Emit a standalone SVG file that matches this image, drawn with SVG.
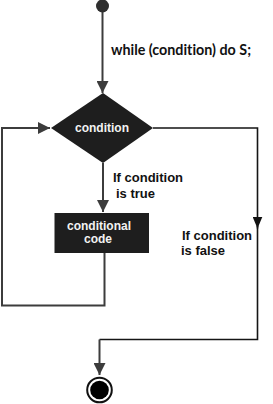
<svg xmlns="http://www.w3.org/2000/svg" width="273" height="404" viewBox="0 0 273 404">
<defs>
<style>
.bg{fill:#ffffff}
.ln{fill:none;stroke:#3c3c3c;stroke-width:2}
.lnk{fill:none;stroke:#151515;stroke-width:1.6}
.shape{fill:#1e1e1e}
.wt{fill:#f2f2f2;font-family:"Liberation Sans",Arial,sans-serif;font-weight:bold;font-size:12px;text-anchor:middle}
.lbl{fill:#111111;font-family:"Liberation Sans",Arial,sans-serif;font-weight:bold;font-size:13px}
.code{fill:#111111;font-family:Lato,"Open Sans",sans-serif;font-weight:bold;font-size:14.3px;font-variant-ligatures:none}
</style>
<marker id="ah" viewBox="0 0 12 12" refX="12" refY="6" markerWidth="12" markerHeight="12" markerUnits="userSpaceOnUse" orient="auto">
<path d="M0,0 L12,6 L0,12 Z" fill="#3c3c3c"/>
</marker>
<marker id="ahk" viewBox="0 0 12 12" refX="12" refY="6" markerWidth="12" markerHeight="10" markerUnits="userSpaceOnUse" orient="auto" preserveAspectRatio="none">
<path d="M0,0 L12,6 L0,12 Z" fill="#111111"/>
</marker>
</defs>
<rect class="bg" x="0" y="0" width="273" height="404"/>
<g id="connectors">
<path class="ln" d="M102.5,10 V93" marker-end="url(#ah)"/>
<path class="ln" d="M103,163 V212" marker-end="url(#ah)"/>
<path class="ln" d="M104.5,253 V305.5 H2 V128 H50" marker-end="url(#ah)"/>
<path class="lnk" d="M153,128 H257.5 V228.5"  marker-end="url(#ahk)"/>
<path class="lnk" d="M257.5,226 V339.5 H99.5"/>
<path class="ln" d="M99.5,339.5 V375" marker-end="url(#ah)"/>
</g>
<g id="start">
<circle cx="102.5" cy="6" r="6.5" fill="#2e2e2e"/>
</g>
<text class="code" x="111" y="55">while (condition) do S;</text>
<g id="condition">
<polygon class="shape" points="103,93 153,128 103,163 51,128"/>
<text class="wt" x="102" y="132">condition</text>
</g>
<g id="label-true">
<text class="lbl" x="113" y="181.5">If condition</text>
<text class="lbl" x="116" y="197.5">is true</text>
</g>
<g id="code">
<rect class="shape" x="54.5" y="213" width="94.5" height="40"/>
<text class="wt" x="99" y="229.5">conditional</text>
<text class="wt" x="98" y="243">code</text>
</g>
<g id="label-false">
<text class="lbl" x="182" y="240">If condition</text>
<text class="lbl" x="181" y="254.5">is false</text>
</g>
<g id="end">
<circle cx="99.5" cy="390" r="12.3" fill="#ffffff" stroke="#111111" stroke-width="2"/>
<circle cx="99.5" cy="390" r="9.3" fill="#000000"/>
</g>
</svg>
